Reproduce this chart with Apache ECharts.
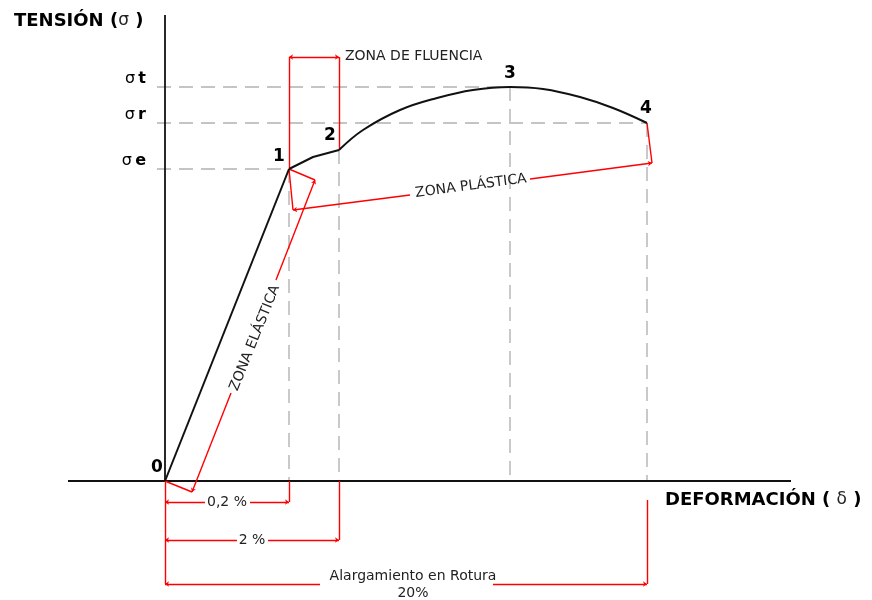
<!DOCTYPE html>
<html>
<head>
<meta charset="utf-8">
<script src="https://cdn.jsdelivr.net/npm/echarts@6/dist/echarts.min.js"></script>
<style>
html, body { margin: 0; background: #fff; }
#g_chart { width: 872px; height: 600px; }
</style>
</head>
<body>
<div id="g_chart"></div>
<script>
// ejes: x = deformación, y = tensión (origen en el punto 0)
var elastic = [[0, 0], [124, 312]];
var yieldPart = [[124, 312], [148, 324], [174, 331]];
var hardening = [[174, 331], [198, 351], [235, 371], [272, 383], [308, 391], [345, 394], [378, 392], [415, 384], [448, 373], [482, 358]];

// niveles de tensión σt, σr, σe y hasta dónde llega su línea de trazos
var stressNames = ['t', 'r', 'e'];
var stressLevels = [394, 358, 312];
var stressEnds = [345, 482, 124];
// puntos 1, 2, 3, 4 (bajan a la horizontal)
var strainMarks = [[124, 312], [174, 331], [345, 394], [482, 358]];

var pointNames = ['0', '1', '2', '3', '4'];
var pointAt = [[-8, 13], [114, 324], [165, 345], [345, 407], [481, 372]];

var axisX = [[-97, 0], [626, 0]];
var axisY = [[0, 0], [0, 466]];

// cotas en rojo
var redPlain = [
    [[124, 312], [124, 424]], [[174, 331], [174, 424]],
    [[0, 0], [27, -11]], [[124, 312], [150, 301]],
    [[124, 312], [128, 271]], [[482, 358], [487, 318]],
    [[0, 0], [0, -103]], [[124, 0], [124, -21]],
    [[174, 0], [174, -59]], [[482, -19], [482, -103]]
];
var redBoth = [[[124, 424], [174, 424]]];
var redHalf = [
    [[27, -11], [66, 88]], [[150, 301], [111, 201]],
    [[128, 271], [245, 286]], [[487, 318], [365, 302]],
    [[0, -21], [40, -21]], [[124, -21], [85, -21]],
    [[0, -59], [72, -59]], [[174, -59], [103, -59]],
    [[0, -103], [155, -103]], [[482, -103], [328, -103]]
];

var notes = ['ZONA DE FLUENCIA', 'ZONA ELÁSTICA', 'ZONA PLÁSTICA', '0,2 %', '2 %', 'Alargamiento en Rotura', '20%'];
var noteAt = [[180, 425], [90, 143], [306, 295], [62, -21], [87, -59], [248, -95], [248, -112]];
var noteAngle = [0, 68, 7.5, 0, 0, 0, 0];

var e_chart = echarts.init(document.getElementById('g_chart'));

var dashData = [];
stressLevels.forEach(function (lv, i) {
    dashData.push({coords: [[-8, lv], [stressEnds[i], lv]]});
});
strainMarks.forEach(function (p) {
    dashData.push({coords: [[p[0], p[1]], [p[0], 0]]});
});

function toLines(arr) {
    return arr.map(function (c) { return {coords: c}; });
}

var texts = [];
pointNames.forEach(function (n, i) {
    texts.push({value: pointAt[i], label: {formatter: n, fontSize: 17, fontWeight: 'bold', color: '#000', fontFamily: 'DejaVu Sans'}});
});
stressNames.forEach(function (n, i) {
    texts.push({
        value: [-19, stressLevels[i] + 8],
        label: {
            formatter: '{s|σ} {b|' + n + '}', align: 'right',
            rich: {
                s: {fontSize: 16, color: '#000', fontFamily: 'DejaVu Sans'},
                b: {fontSize: 16, fontWeight: 'bold', color: '#000', fontFamily: 'DejaVu Sans'}
            }
        }
    });
});
notes.forEach(function (n, i) {
    texts.push({
        value: noteAt[i],
        label: {formatter: n, rotate: noteAngle[i], align: i === 0 ? 'left' : 'center', fontSize: 14, color: '#222', fontFamily: 'DejaVu Sans'}
    });
});
var bigRich = {
    b: {fontSize: 18, fontWeight: 'bold', color: '#000', fontFamily: 'DejaVu Sans'},
    s: {fontSize: 17, color: '#222', fontFamily: 'DejaVu Sans'}
};
texts.push({value: [-151, 460], label: {formatter: '{b|TENSIÓN (}{s|σ}{b| )}', align: 'left', rich: bigRich}});
texts.push({value: [500, -19], label: {formatter: '{b|DEFORMACIÓN ( }{s|δ}{b| )}', align: 'left', rich: bigRich}});

var redStyle = {color: '#ff0000', width: 1.4, opacity: 1};

var options = {
    animation: false,
    grid: {left: 0, right: 0, top: 0, bottom: 0},
    xAxis: {type: 'value', min: -165, max: 707, show: false},
    yAxis: {type: 'value', min: -119, max: 481, show: false},
    series: [
        {
            type: 'lines', coordinateSystem: 'cartesian2d', silent: true,
            data: dashData,
            lineStyle: {color: '#c4c4c4', width: 1.8, type: [14, 8], opacity: 1}
        },
        {
            type: 'lines', coordinateSystem: 'cartesian2d', silent: true,
            data: [{coords: axisX}, {coords: axisY}],
            lineStyle: {color: '#111', width: 1.8, opacity: 1}
        },
        {
            type: 'lines', coordinateSystem: 'cartesian2d', silent: true,
            data: toLines(redPlain), lineStyle: redStyle
        },
        {
            type: 'lines', coordinateSystem: 'cartesian2d', silent: true,
            data: toLines(redHalf), lineStyle: redStyle,
            symbol: ['arrow', 'none'], symbolSize: 4
        },
        {
            type: 'lines', coordinateSystem: 'cartesian2d', silent: true,
            data: toLines(redBoth), lineStyle: redStyle,
            symbol: ['arrow', 'arrow'], symbolSize: 4
        },
        {
            type: 'line', data: elastic, symbol: 'none', silent: true,
            lineStyle: {color: '#111', width: 2}
        },
        {
            type: 'line', data: yieldPart, symbol: 'none', silent: true,
            lineStyle: {color: '#111', width: 2}
        },
        {
            type: 'line', data: hardening, symbol: 'none', smooth: 0.4, silent: true,
            lineStyle: {color: '#111', width: 2}
        },
        {
            type: 'scatter', data: texts, symbolSize: 0, silent: true, clip: false,
            itemStyle: {opacity: 1},
            label: {show: true, position: [0, 0], align: 'center', verticalAlign: 'middle'}
        }
    ]
};
e_chart.setOption(options);
</script>
</body>
</html>
